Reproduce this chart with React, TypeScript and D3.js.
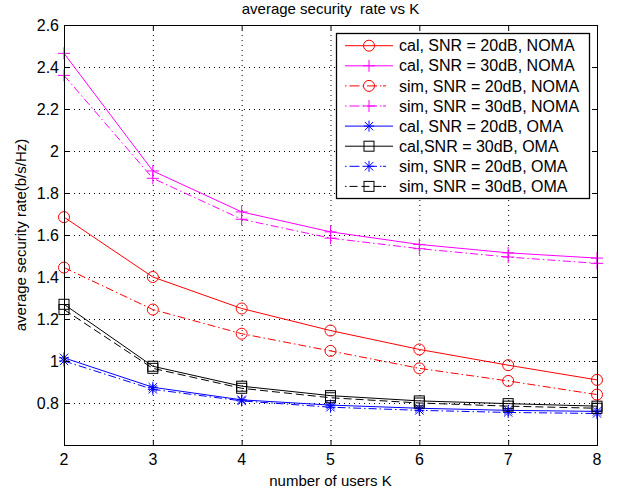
import React, { useEffect, useRef } from 'react';
import * as d3 from 'd3';

// number of users
const kValues = [2, 3, 4, 5, 6, 7, 8];

// average security rate (b/s/Hz)
const calNoma20 = [1.685, 1.4, 1.25, 1.145, 1.055, 0.98, 0.91];
const calNoma30 = [2.465, 1.905, 1.71, 1.615, 1.555, 1.515, 1.49];
const simNoma20 = [1.445, 1.245, 1.13, 1.048, 0.965, 0.905, 0.84];
const simNoma30 = [2.36, 1.87, 1.675, 1.585, 1.535, 1.495, 1.465];
const calOma20 = [1.015, 0.875, 0.815, 0.79, 0.775, 0.765, 0.76];
const calOma30 = [1.27, 0.975, 0.88, 0.835, 0.81, 0.797, 0.785];
const simOma20 = [1.0, 0.865, 0.81, 0.78, 0.765, 0.755, 0.75];
const simOma30 = [1.245, 0.965, 0.87, 0.825, 0.8, 0.785, 0.775];

const yTicks = [0.8, 1, 1.2, 1.4, 1.6, 1.8, 2, 2.2, 2.4, 2.6];
const xTicks = [2, 3, 4, 5, 6, 7, 8];

const seriesList = [
  { label: 'cal, SNR = 20dB, NOMA', values: calNoma20, color: '#ff0000', dash: null, marker: 'circle' },
  { label: 'cal, SNR = 30dB, NOMA', values: calNoma30, color: '#ff00ff', dash: null, marker: 'plus' },
  { label: 'sim, SNR = 20dB, NOMA', values: simNoma20, color: '#ff0000', dash: '8,3,1.5,3', marker: 'circle' },
  { label: 'sim, SNR = 30dB, NOMA', values: simNoma30, color: '#ff00ff', dash: '8,3,1.5,3', marker: 'plus' },
  { label: 'cal, SNR = 20dB, OMA', values: calOma20, color: '#0000ff', dash: null, marker: 'star' },
  { label: 'cal,SNR = 30dB, OMA', values: calOma30, color: '#000000', dash: null, marker: 'square' },
  { label: 'sim, SNR = 20dB, OMA', values: simOma20, color: '#0000ff', dash: '8,3,1.5,3', marker: 'star' },
  { label: 'sim, SNR = 30dB, OMA', values: simOma30, color: '#000000', dash: '8,4', marker: 'square' },
];

const FONT = 'Arial, "Liberation Sans", Helvetica, sans-serif';

const drawMarker = (g, type, x, y, color) => {
  if (type === 'circle') {
    g.append('circle').attr('cx', x).attr('cy', y).attr('r', 5.5)
      .attr('fill', 'none').attr('stroke', color).attr('stroke-width', 1);
  } else if (type === 'square') {
    g.append('rect').attr('x', x - 5).attr('y', y - 5).attr('width', 10).attr('height', 10)
      .attr('fill', 'none').attr('stroke', color).attr('stroke-width', 1);
  } else {
    const s = 6;
    let segs = [[-s, 0, s, 0], [0, -s, 0, s]];
    if (type === 'star') {
      const d = 4.2;
      segs = [[-5, 0, 5, 0], [0, -5.5, 0, 5.5], [-d, -d, d, d], [-d, d, d, -d]];
    }
    segs.forEach(([x1, y1, x2, y2]) => {
      g.append('line').attr('x1', x + x1).attr('y1', y + y1).attr('x2', x + x2).attr('y2', y + y2)
        .attr('stroke', color).attr('stroke-width', 1);
    });
  }
};

const App = () => {
  const svgRef = useRef(null);

  useEffect(() => {
    const width = 623;
    const height = 491;
    const margin = { top: 25, right: 26, bottom: 46, left: 64 };
    const innerW = width - margin.left - margin.right;
    const innerH = height - margin.top - margin.bottom;

    const svg = d3.select(svgRef.current);
    svg.selectAll('*').remove();

    svg.append('rect').attr('width', width).attr('height', height).attr('fill', '#fff');

    const chart = svg.append('g')
      .attr('transform', `translate(${margin.left},${margin.top})`);

    const xScale = d3.scaleLinear().domain([2, 8]).range([0, innerW]);
    const yScale = d3.scaleLinear().domain([0.6, 2.6]).range([innerH, 0]);

    // grid
    const grid = chart.append('g').attr('stroke', '#000').attr('stroke-width', 1)
      .attr('stroke-dasharray', '1,4');
    xTicks.slice(1, -1).forEach(t => {
      grid.append('line').attr('x1', xScale(t) + 0.5).attr('x2', xScale(t) + 0.5)
        .attr('y1', 0).attr('y2', innerH);
    });
    yTicks.slice(0, -1).forEach(t => {
      grid.append('line').attr('y1', Math.round(yScale(t)) + 0.5).attr('y2', Math.round(yScale(t)) + 0.5)
        .attr('x1', 0).attr('x2', innerW);
    });

    // series
    const line = d3.line().x((d, i) => xScale(kValues[i])).y(d => yScale(d));
    seriesList.forEach(s => {
      const path = chart.append('path').datum(s.values)
        .attr('d', line).attr('fill', 'none')
        .attr('stroke', s.color).attr('stroke-width', 1);
      if (s.dash) path.attr('stroke-dasharray', s.dash);
      const mg = chart.append('g');
      s.values.forEach((v, i) => drawMarker(mg, s.marker, xScale(kValues[i]), yScale(v), s.color));
    });

    // axes box and ticks
    chart.append('rect').attr('x', 0.5).attr('y', 0.5).attr('width', innerW).attr('height', innerH)
      .attr('fill', 'none').attr('stroke', '#000').attr('stroke-width', 1);

    const tl = 5;
    const ticks = chart.append('g').attr('stroke', '#000').attr('stroke-width', 1);
    xTicks.forEach(t => {
      const x = xScale(t) + 0.5;
      ticks.append('line').attr('x1', x).attr('x2', x).attr('y1', innerH).attr('y2', innerH - tl);
      ticks.append('line').attr('x1', x).attr('x2', x).attr('y1', 0).attr('y2', tl);
    });
    yTicks.forEach(t => {
      const y = Math.round(yScale(t)) + 0.5;
      ticks.append('line').attr('x1', 0).attr('x2', tl).attr('y1', y).attr('y2', y);
      ticks.append('line').attr('x1', innerW).attr('x2', innerW - tl).attr('y1', y).attr('y2', y);
    });

    const labels = chart.append('g').attr('font-family', FONT).attr('font-size', 16).attr('fill', '#000');
    xTicks.forEach(t => {
      labels.append('text').attr('x', xScale(t)).attr('y', innerH + 20)
        .attr('text-anchor', 'middle').text(d3.format('d')(t));
    });
    yTicks.forEach(t => {
      labels.append('text').attr('x', -5).attr('y', yScale(t)).attr('dy', '0.35em')
        .attr('text-anchor', 'end').text(String(t));
    });

    // axis titles
    labels.append('text').attr('x', innerW / 2).attr('y', innerH + 41)
      .attr('text-anchor', 'middle').attr('font-size', 15).text('number of users K');
    labels.append('text').attr('transform', 'rotate(-90)')
      .attr('x', -innerH / 2).attr('y', -margin.left + 26)
      .attr('text-anchor', 'middle').attr('font-size', 15).text('average security rate(b/s/Hz)');
    labels.append('text').attr('x', innerW / 2).attr('y', -11)
      .attr('text-anchor', 'middle').attr('font-size', 15)
      .style('white-space', 'pre').text('average security  rate vs K');

    // legend
    const lg = svg.append('g').attr('transform', 'translate(336,33)');
    lg.append('rect').attr('x', 0.5).attr('y', 0.5).attr('width', 253).attr('height', 165)
      .attr('fill', '#fff').attr('stroke', '#000').attr('stroke-width', 1.3);
    seriesList.forEach((s, i) => {
      const y = 12.7 + i * 20.1;
      const ln = lg.append('line').attr('x1', 9).attr('x2', 57).attr('y1', y).attr('y2', y)
        .attr('stroke', s.color).attr('stroke-width', 1);
      if (s.dash) ln.attr('stroke-dasharray', s.dash === '8,4' ? '1.5,3,8,4,8,4,8' : '1.5,3,10,3,1.5,3,10,3,1.5');
      drawMarker(lg, s.marker, 33, y, s.color);
      lg.append('text').attr('x', 63).attr('y', y).attr('dy', '0.35em')
        .attr('font-family', FONT).attr('font-size', 16).attr('fill', '#000').text(s.label);
    });
  }, []);

  return (
    <svg ref={svgRef} width={623} height={491}
      style={{ position: 'absolute', left: 0, top: 0, display: 'block' }}></svg>
  );
};

export default App;
